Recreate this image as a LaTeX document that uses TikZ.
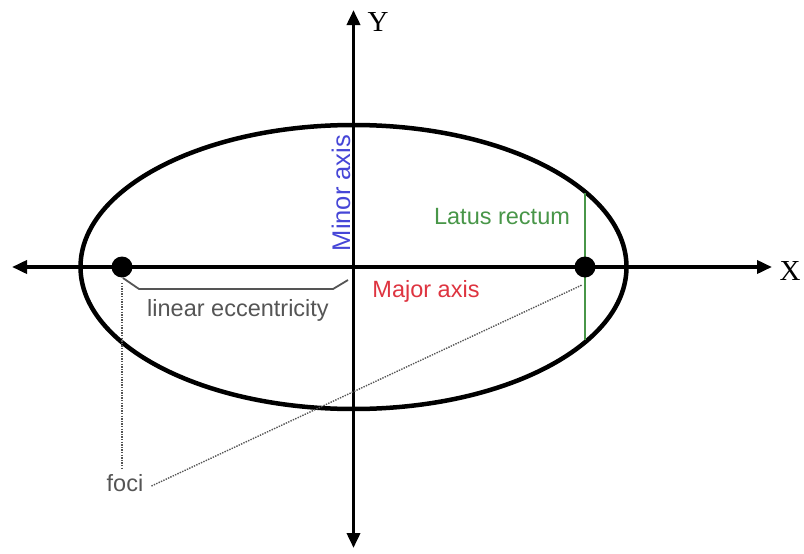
\documentclass[tikz,border=0pt]{standalone}
\usepackage{fontspec}
\setmainfont{Liberation Sans}
\newfontfamily\serifface{Liberation Serif}
\usetikzlibrary{arrows.meta}
\definecolor{majred}{RGB}{222,52,64}
\definecolor{minblue}{RGB}{70,70,215}
\definecolor{latgreen}{RGB}{72,150,72}
\definecolor{lblgray}{RGB}{85,85,85}
\tikzset{
  axisline/.style={line width=3.6pt,-{Triangle[length=15pt,width=13pt]}},
  focusdot/.style={circle,fill=black,inner sep=0pt,minimum size=21pt},
  lbl/.style={inner sep=0pt,font=\fontsize{23.5}{26}\selectfont},
  pointer/.style={lblgray,line width=1.4pt,dash pattern=on 1.4pt off 1.2pt},
}
\begin{document}
\begin{tikzpicture}[x=1pt,y=-1pt]
\useasboundingbox (0,0) rectangle (804,554);
\coordinate (O) at (353.5,267);
\coordinate (xl) at (12,267);
\coordinate (xr) at (772,267);
\coordinate (yt) at (353.5,10);
\coordinate (yb) at (353.5,548);
% ellipse
\draw[line width=4.5pt] (O) ellipse [x radius=273, y radius=142];
% axes
\draw[axisline] (O) -- (xr);
\draw[axisline] (O) -- (xl);
\draw[axisline] (O) -- (yt);
\draw[axisline] (O) -- (yb);
\node[font=\serifface\fontsize{29}{30}\selectfont,inner sep=0pt] (X) at (790,271) {X};
\node[font=\serifface\fontsize{29}{30}\selectfont,inner sep=0pt] (Y) at (378,22) {Y};
% latus rectum
\coordinate (lt) at (585,193);
\coordinate (lb) at (585,340);
\draw[latgreen,line width=1.8pt] (lt) -- (lb);
% foci
\node[focusdot] (F1) at (122,267) {};
\node[focusdot] (F2) at (585,267) {};
% bracket
\coordinate (b1) at (123,278);
\coordinate (b2) at (139,289);
\coordinate (b3) at (333,289);
\coordinate (b4) at (348,280);
\draw[lblgray,line width=1.8pt,line join=round] (b1) -- (b2) -- (b3) -- (b4);
% labels
\node[lbl,lblgray] (le) at (238,310) {linear eccentricity};
\node[lbl,majred] (maj) at (426,291) {Major axis};
\node[lbl,latgreen] (lat) at (502,217) {Latus rectum};
\node[lbl,minblue,rotate=90,font=\fontsize{25.5}{27}\selectfont] (minr) at (341,193) {Minor axis};
\node[lbl,lblgray] (foci) at (125,483) {foci};
% pointers
\coordinate (p1) at (122,283);
\coordinate (p2) at (582,285);
\draw[pointer] (p1) -- ([yshift=6pt]p1 |- foci.north);
\draw[pointer] ([xshift=8pt,yshift=-3pt]foci.east) -- (p2);
\end{tikzpicture}
\end{document}
